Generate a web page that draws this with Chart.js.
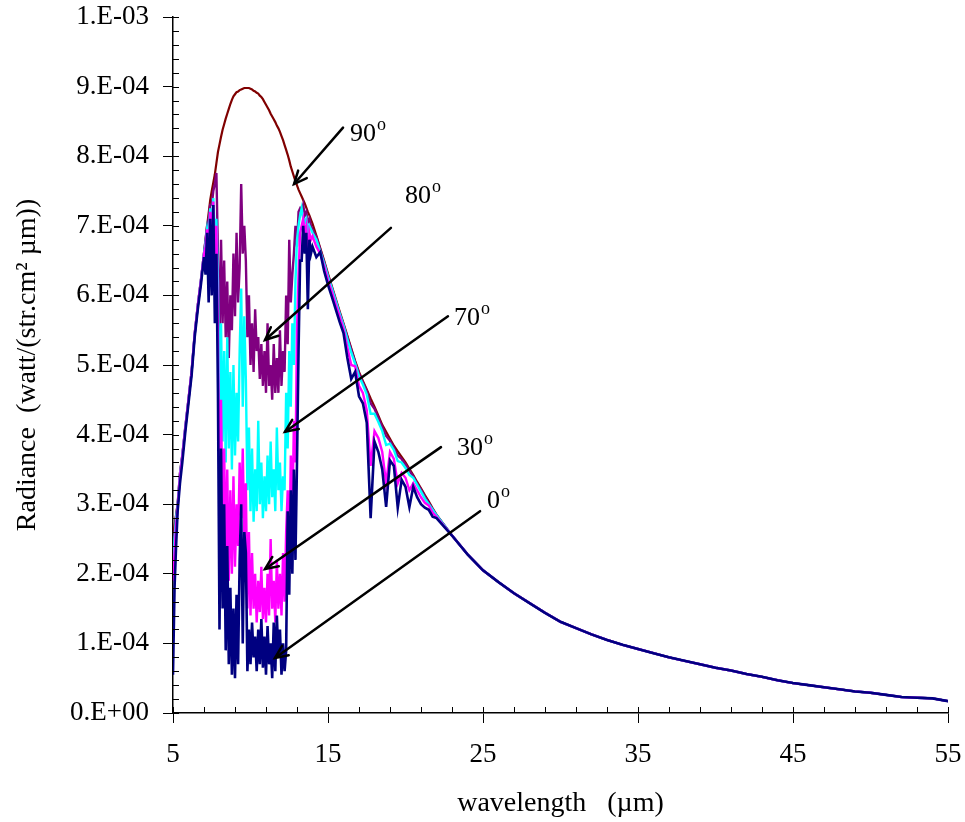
<!DOCTYPE html>
<html>
<head>
<meta charset="utf-8">
<script src="https://cdn.jsdelivr.net/npm/chart.js@4.4.1/dist/chart.umd.min.js"></script>
<style>
  html, body { margin: 0; padding: 0; background: #ffffff; }
  #wrap { width: 965px; height: 822px; }
</style>
</head>
<body>
<div id="wrap"><canvas id="c" width="965" height="822"></canvas></div>
<script>
// ---------------- DATA (radiance in units of 1e-4 watt/(str.cm2.um)) ----------------
const bandWavelength = [
  5.0, 5.1, 5.2, 5.3, 5.45, 5.6, 5.8, 6.0, 6.2, 6.4, 6.6, 6.8,
  7.0, 7.1, 7.2, 7.3, 7.4, 7.5, 7.6, 7.7, 7.8, 7.9,
  8.0, 8.1, 8.2, 8.3, 8.4, 8.5, 8.6, 8.7, 8.8, 8.9,
  9.0, 9.1, 9.2, 9.3, 9.4, 9.5, 9.6, 9.7, 9.8, 9.9,
  10.0, 10.1, 10.2, 10.3, 10.4, 10.5, 10.6, 10.7, 10.8, 10.9,
  11.0, 11.1, 11.2, 11.3, 11.4, 11.5, 11.6, 11.7, 11.8, 11.9,
  12.0, 12.1, 12.2, 12.3, 12.4, 12.5, 12.6, 12.7, 12.8, 12.9,
  13.0, 13.1, 13.2, 13.3, 13.4, 13.5, 13.6, 13.7, 13.8, 13.9,
  14.0,
  14.25, 14.5, 14.75, 15.0, 15.25, 15.5, 15.75, 16.0,
  16.25, 16.5, 16.75, 17.0, 17.25, 17.5, 17.75, 18.0,
  18.25, 18.5, 18.75, 19.0, 19.25, 19.5, 19.75, 20.0,
  20.25, 20.5, 20.75, 21.0, 21.25, 21.5, 21.75, 22.0
];

const radiance90 = [
  2.50, 2.70, 2.85, 3.00, 3.45, 3.70, 4.12, 4.51, 4.91, 5.45, 5.86, 6.22,
  6.61, 6.80, 7.00, 7.18, 7.37, 7.50, 7.62, 7.74, 7.90, 8.06,
  8.17, 8.28, 8.38, 8.46, 8.54, 8.61, 8.68, 8.75, 8.81, 8.86,
  8.89, 8.92, 8.93, 8.95, 8.96, 8.97, 8.98, 8.98, 8.98, 8.98,
  8.97, 8.96, 8.94, 8.93, 8.91, 8.90, 8.87, 8.85, 8.82, 8.78,
  8.74, 8.70, 8.66, 8.61, 8.57, 8.53, 8.49, 8.44, 8.40, 8.35,
  8.29, 8.23, 8.16, 8.09, 8.02, 7.94, 7.85, 7.78, 7.71, 7.64,
  7.58, 7.52, 7.47, 7.42, 7.37, 7.32, 7.26, 7.20, 7.15, 7.09,
  7.03,
  6.86, 6.68, 6.50, 6.31, 6.13, 5.95, 5.77, 5.60,
  5.42, 5.24, 5.06, 4.90, 4.77, 4.65, 4.52, 4.40,
  4.27, 4.14, 4.04, 3.94, 3.84, 3.76, 3.68, 3.60,
  3.51, 3.42, 3.32, 3.23, 3.13, 3.04, 2.94, 2.85
];

const radiance80 = [
  2.30, 2.60, 2.82, 3.00, 3.44, 3.70, 4.12, 4.51, 4.91, 5.45, 5.86, 6.22,
  6.6, 6.8, 7.0, 7.1, 7.3, 7.3, 7.5, 7.6, 7.76, 6.6,
  5.2, 6.8, 5.6, 6.5, 5.4, 6.2, 5.1, 6.0, 5.5, 6.6,
  5.7, 6.9, 5.9, 6.4, 7.6, 6.6, 7.0, 6.5, 5.4, 6.0,
  5.0, 5.6, 4.9, 5.8, 5.2, 5.4, 4.8, 5.3, 4.7, 5.2,
  4.6, 5.6, 4.7, 5.0, 4.5, 5.3, 4.6, 5.1, 4.6, 5.5,
  4.7, 5.2, 4.9, 6.0, 5.3, 6.8, 5.9, 6.3, 6.6, 7.0,
  6.7, 7.2, 7.25, 7.2, 7.3, 7.15, 7.2, 7.05, 7.1, 7.0,
  6.95,
  6.84, 6.66, 6.48, 6.29, 6.11, 5.93, 5.75, 5.58,
  5.40, 5.22, 5.04, 4.88, 4.75, 4.63, 4.45, 4.37,
  4.24, 4.11, 3.98, 3.91, 3.81, 3.70, 3.65, 3.57,
  3.48, 3.40, 3.30, 3.21, 3.11, 3.02, 2.93, 2.84
];

const radiance70 = [
  2.10, 2.50, 2.80, 2.98, 3.42, 3.69, 4.11, 4.50, 4.90, 5.44, 5.85, 6.21,
  6.6, 6.75, 6.95, 6.8, 7.25, 7.0, 7.4, 6.9, 7.1, 6.2,
  4.2, 5.6, 3.9, 5.2, 3.6, 5.4, 3.8, 4.9, 3.5, 5.0,
  3.7, 4.6, 3.9, 5.2, 6.1, 4.4, 5.7, 4.8, 3.2, 4.1,
  2.9, 3.8, 2.75, 3.5, 2.9, 4.2, 3.0, 3.6, 2.8, 3.4,
  2.9, 3.7, 3.0, 3.9, 3.1, 3.5, 2.9, 4.1, 3.2, 3.6,
  2.9, 3.4, 3.2, 4.6, 3.8, 5.2, 4.4, 5.6, 5.0, 6.2,
  6.8, 7.0, 7.15, 7.25, 7.1, 7.05, 7.1, 6.9, 7.0, 6.95,
  6.9,
  6.80, 6.63, 6.46, 6.27, 6.10, 5.92, 5.74, 5.57,
  5.37, 5.18, 5.02, 4.84, 4.72, 4.58, 4.30, 4.30,
  4.18, 4.05, 3.85, 3.87, 3.78, 3.62, 3.60, 3.52,
  3.42, 3.38, 3.28, 3.18, 3.08, 3.00, 2.92, 2.84
];

const radiance30 = [
  1.90, 2.30, 2.70, 2.95, 3.40, 3.68, 4.10, 4.50, 4.90, 5.44, 5.85, 6.20,
  6.6, 6.7, 6.95, 6.6, 7.2, 6.8, 7.35, 6.6, 7.0, 5.5,
  3.0, 4.5, 2.6, 3.8, 2.2, 3.5, 1.9, 3.2, 2.0, 3.4,
  2.1, 3.0, 2.4, 3.6, 2.8, 3.8, 2.5, 3.3, 1.5, 2.6,
  1.4, 2.3, 1.5, 2.0, 1.3, 1.9, 1.45, 2.1, 1.35, 1.8,
  1.3, 2.0, 1.4, 2.5, 1.5, 1.9, 1.3, 2.2, 1.5, 2.0,
  1.4, 2.3, 1.6, 2.6, 3.2, 2.2, 3.7, 2.8, 4.2, 3.6,
  5.5, 6.3, 6.9, 7.0, 7.1, 6.9, 7.0, 6.4, 6.9, 6.8,
  6.85,
  6.70, 6.60, 6.42, 6.22, 6.05, 5.87, 5.70, 5.52,
  5.25, 5.00, 4.98, 4.70, 4.60, 4.35, 3.55, 4.05,
  3.95, 3.75, 3.30, 3.75, 3.65, 3.30, 3.45, 3.38,
  3.20, 3.30, 3.20, 3.10, 3.02, 2.98, 2.88, 2.82
];

const radiance0 = [
  0.55, 1.80, 2.40, 2.90, 3.30, 3.60, 4.05, 4.45, 4.85, 5.40, 5.80, 6.15,
  6.55, 6.3, 6.9, 5.9, 7.1, 6.0, 7.3, 5.6, 6.6, 4.6,
  1.2, 3.8, 1.5, 3.0, 0.9, 2.4, 0.7, 1.8, 0.55, 1.5,
  0.5, 1.7, 0.7, 2.2, 3.0, 1.0, 2.6, 2.3, 0.6, 1.2,
  0.7, 1.3, 0.8, 1.1, 0.6, 1.2, 0.7, 1.35, 0.65, 1.1,
  0.55, 1.25, 0.7, 1.0, 0.5, 1.3, 0.6, 1.4, 0.8, 1.2,
  0.55, 1.0, 0.6, 0.9, 2.9, 1.7, 3.2, 2.0, 3.5, 2.2,
  3.6, 5.2, 6.5, 6.5, 7.0, 6.6, 6.9, 5.8, 6.8, 6.6,
  6.7,
  6.55, 6.62, 6.35, 6.15, 5.98, 5.80, 5.62, 5.46,
  5.10, 4.80, 4.90, 4.55, 4.45, 4.17, 2.80, 3.90,
  3.75, 3.50, 2.96, 3.63, 3.55, 2.95, 3.35, 3.25,
  2.96, 3.25, 3.10, 3.00, 2.95, 2.92, 2.82, 2.80
];

// long-wavelength tail, where all five curves coincide
const tailWavelength = [23, 24, 25, 26, 27, 28, 29, 30, 31, 32, 33, 34, 35, 36, 37, 38, 39, 40,
  41, 42, 43, 44, 45, 46, 47, 48, 49, 50, 51, 52, 53, 54, 55];
const tailRadiance = [2.55, 2.28, 2.05, 1.88, 1.72, 1.58, 1.44, 1.31, 1.22, 1.13, 1.05, 0.98,
  0.92, 0.86, 0.80, 0.75, 0.70, 0.65, 0.61, 0.56, 0.52, 0.47, 0.43, 0.40, 0.37, 0.34, 0.31,
  0.29, 0.26, 0.23, 0.22, 0.21, 0.17];

const seriesNames = ['0', '30', '70', '80', '90'];
const xTickValues = [5, 15, 25, 35, 45, 55];
const yTickLabels = ['0.E+00', '1.E-04', '2.E-04', '3.E-04', '4.E-04', '5.E-04',
  '6.E-04', '7.E-04', '8.E-04', '9.E-04', '1.E-03'];

// ---------------- STYLE / LAYOUT ----------------
const SERIF = '"Liberation Serif", "Times New Roman", serif';
const seriesColors = ['#000080', '#FF00FF', '#00FFFF', '#800080', '#800000'];
const seriesWidths = [2.6, 2.4, 2.4, 2.4, 2.2];
const seriesValues = [radiance0, radiance30, radiance70, radiance80, radiance90];

// arrow annotations, given in data coordinates (wavelength, radiance 1e-4)
const annotations = [
  { text: '90', tail: [15.97, 8.41], head: [12.81, 7.60], label: [16.42, 8.22] },
  { text: '80', tail: [19.06, 6.97], head: [10.94, 5.36], label: [19.97, 7.33] },
  { text: '70', tail: [22.74, 5.70], head: [12.23, 4.04], label: [23.13, 5.57] },
  { text: '30', tail: [22.29, 3.82], head: [10.94, 2.07], label: [23.32, 3.71] },
  { text: '0',  tail: [24.81, 2.90], head: [11.58, 0.79], label: [25.26, 2.95] }
];

function buildPoints(values) {
  const pts = bandWavelength.map((w, i) => ({ x: w, y: values[i] }));
  return pts.concat(tailWavelength.map((w, i) => ({ x: w, y: tailRadiance[i] })));
}

const datasets = seriesNames.map((name, i) => ({
  label: name + '°',
  data: buildPoints(seriesValues[i]),
  borderColor: seriesColors[i],
  backgroundColor: seriesColors[i],
  borderWidth: seriesWidths[i],
  pointRadius: 0,
  tension: 0,
  fill: false
}));

function zeroPadding(s) {
  s.paddingTop = 0; s.paddingBottom = 0; s.paddingLeft = 0; s.paddingRight = 0;
}

const innerTicks = {
  id: 'innerTicks',
  afterDraw(chart) {
    const { ctx, chartArea, scales: { x, y } } = chart;
    ctx.save();
    ctx.strokeStyle = '#000';
    ctx.lineWidth = 1;
    for (let i = 0; i <= 50; i++) {
      const py = Math.round(y.getPixelForValue(i * 0.2)) + 0.5;
      ctx.beginPath();
      ctx.moveTo(chartArea.left, py);
      ctx.lineTo(chartArea.left + 6, py);
      ctx.stroke();
    }
    for (let i = 0; i <= 25; i++) {
      const px = Math.round(x.getPixelForValue(5 + i * 2)) + 0.5;
      ctx.beginPath();
      ctx.moveTo(px, chartArea.bottom);
      ctx.lineTo(px, chartArea.bottom - 6);
      ctx.stroke();
    }
    ctx.restore();
  }
};

const arrows = {
  id: 'arrows',
  afterDatasetsDraw(chart) {
    const { ctx, scales: { x, y } } = chart;
    ctx.save();
    annotations.forEach(a => {
      const x1 = x.getPixelForValue(a.tail[0]), y1 = y.getPixelForValue(a.tail[1]);
      const x2 = x.getPixelForValue(a.head[0]), y2 = y.getPixelForValue(a.head[1]);
      ctx.strokeStyle = '#000';
      ctx.lineWidth = 2.5;
      ctx.lineCap = 'round';
      ctx.beginPath();
      ctx.moveTo(x1, y1);
      ctx.lineTo(x2, y2);
      ctx.stroke();
      const ang = Math.atan2(y2 - y1, x2 - x1);
      const L = 14, spread = 0.42;
      ctx.beginPath();
      ctx.moveTo(x2 - L * Math.cos(ang - spread), y2 - L * Math.sin(ang - spread));
      ctx.lineTo(x2, y2);
      ctx.lineTo(x2 - L * Math.cos(ang + spread), y2 - L * Math.sin(ang + spread));
      ctx.stroke();
      const lx = x.getPixelForValue(a.label[0]), ly = y.getPixelForValue(a.label[1]);
      ctx.fillStyle = '#000';
      ctx.textAlign = 'left';
      ctx.textBaseline = 'alphabetic';
      ctx.font = '26px ' + SERIF;
      ctx.fillText(a.text, lx, ly);
      const w = ctx.measureText(a.text).width;
      ctx.font = '18px ' + SERIF;
      ctx.fillText('o', lx + w + 1, ly - 11);
    });
    ctx.restore();
  }
};

new Chart(document.getElementById('c'), {
  type: 'line',
  data: { datasets },
  options: {
    responsive: false,
    animation: false,
    devicePixelRatio: 1,
    layout: { padding: { left: 0, right: 17, top: 17, bottom: 0 } },
    plugins: { legend: { display: false }, tooltip: { enabled: false } },
    scales: {
      x: {
        type: 'linear',
        min: 5, max: 55,
        afterBuildTicks: s => { s.ticks = xTickValues.map(v => ({ value: v })); },
        afterFit: s => { s.height = 109; zeroPadding(s); },
        ticks: { font: { family: SERIF, size: 27 }, color: '#000', padding: 16, maxRotation: 0, autoSkip: false },
        grid: { display: true, drawOnChartArea: false, drawTicks: true, tickLength: 10, color: '#000', tickColor: '#000', tickWidth: 1 },
        border: { display: true, color: '#000', width: 1.5 },
        title: { display: true, text: 'wavelength   (µm)', font: { family: SERIF, size: 28 }, color: '#000', padding: { top: 0, bottom: 2 } }
      },
      y: {
        type: 'linear',
        min: 0, max: 10,
        afterBuildTicks: s => { s.ticks = yTickLabels.map((t, i) => ({ value: i })); },
        afterFit: s => { s.width = 173; zeroPadding(s); },
        ticks: { font: { family: SERIF, size: 27 }, color: '#000', padding: 14, autoSkip: false,
          callback: (v, i) => yTickLabels[i] },
        grid: { display: true, drawOnChartArea: false, drawTicks: true, tickLength: 10, color: '#000', tickColor: '#000', tickWidth: 1 },
        border: { display: true, color: '#000', width: 1.5 },
        title: { display: true, text: 'Radiance  (watt/(str.cm² µm))', font: { family: SERIF, size: 28 }, color: '#000', padding: { top: 11, bottom: 0 } }
      }
    }
  },
  plugins: [innerTicks, arrows]
});
</script>
</body>
</html>
